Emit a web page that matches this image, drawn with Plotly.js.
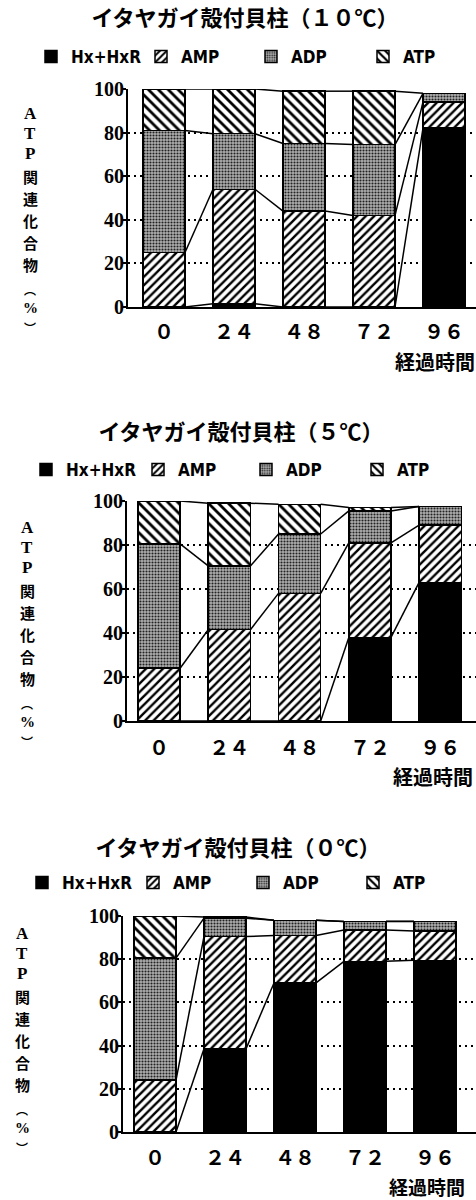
<!DOCTYPE html>
<html>
<head>
<meta charset="utf-8">
<script src="https://cdn.plot.ly/plotly-3.0.1.min.js"></script>
<style>
html,body{margin:0;padding:0;background:#fff;overflow:hidden;}
.c{width:476px;height:400px;}
</style>
</head>
<body>
<div id="c1" class="c"></div>
<div id="c2" class="c"></div>
<div id="c3" class="c"></div>
<script>
// ---- data ----
const hours = ["０", "２４", "４８", "７２", "９６"];
const seriesNames = ["Hx+HxR", "AMP", "ADP", "ATP"];
const titles = ["イタヤガイ殻付貝柱（１０℃）", "イタヤガイ殻付貝柱（５℃）", "イタヤガイ殻付貝柱（０℃）"];
const yTickVals = [0, 20, 40, 60, 80, 100];
const yTitleChars = ["A", "T", "P", "関", "連", "化", "合", "物", "︵", "%", "︶"];
const xTitle = "経過時間";

// 10℃
const hx10  = [0, 1.5, 0, 0, 82];
const amp10 = [25, 52.5, 44, 42, 12];
const adp10 = [56, 25.5, 31, 32.5, 4];
const atp10 = [19, 20.5, 24, 24.5, 0];
// 5℃
const hx5  = [0, 0, 0, 38, 63];
const amp5 = [24, 41.5, 58, 43, 26];
const adp5 = [56.5, 29, 27, 14.5, 8.5];
const atp5 = [19.5, 28.5, 13.5, 1.5, 0];
// 0℃
const hx0  = [0, 38.5, 69, 79, 79.5];
const amp0 = [24, 52, 22, 14.5, 13.5];
const adp0 = [56.5, 8.5, 7, 4, 4.5];
const atp0 = [19.5, 0.5, 0, 0, 0];

// ---- styling / layout ----
const W = 476, H = 400, BARW = 0.6;
const styles = [
  {color: "#000", pattern: {shape: ""}},
  {color: "#fff", pattern: {shape: "/", fgcolor: "#000", bgcolor: "#fff", size: 6, solidity: 0.4}},
  {color: "#aaa", pattern: {shape: ".", fgcolor: "#222", bgcolor: "#b0b0b0", size: 3, solidity: 0.4}},
  {color: "#fff", pattern: {shape: "\\", fgcolor: "#000", bgcolor: "#fff", size: 7, solidity: 0.4}}
];
// vertical offsets (px from first char) and fonts of the y-title characters
const ytOffsets = [0, 20, 40, 63, 85, 107, 129, 151, 176, 195, 214];
const latinFont = {family: "Liberation Serif, serif", size: 17, weight: 700, color: "#000"};
const kanjiFont = {family: "Noto Sans CJK JP", size: 15, weight: 700, color: "#000"};
const parenFont = {family: "Noto Sans CJK JP", size: 12, weight: 700, color: "#000"};
const pctFont = {family: "Liberation Serif, serif", size: 15, weight: 700, color: "#000"};
const ytFonts = [latinFont, latinFont, latinFont, kanjiFont, kanjiFont, kanjiFont, kanjiFont, kanjiFont, parenFont, pctFont, parenFont];

const cfgs = [
  {id: "c1", data: [hx10, amp10, adp10, atp10], top: 89, bottom: 307, left: 128, c0: 164, sp: 70,
   titleX: 245, titleY: 18, legXs: [45, 155, 265, 377], legY: 57, tickStand: 6,
   xlabR: 476, xlabY: 361, xlabSize: 20, ytX: 30, ytY0: 113},
  {id: "c2", data: [hx5, amp5, adp5, atp5], top: 101, bottom: 321, left: 127, c0: 159, sp: 70.3,
   titleX: 241, titleY: 32, legXs: [40, 152, 260, 371], legY: 70, tickStand: 8,
   xlabR: 474, xlabY: 377, xlabSize: 20, ytX: 27, ytY0: 127},
  {id: "c3", data: [hx0, amp0, adp0, atp0], top: 116, bottom: 332, left: 123, c0: 155, sp: 70,
   titleX: 238, titleY: 48, legXs: [36, 147, 257, 367], legY: 83, tickStand: 7,
   xlabR: 466, xlabY: 386.5, xlabSize: 19, ytX: 22, ytY0: 133}
];

const xIdx = hours.map((_, i) => i);
const legendFont = {family: "Liberation Sans Narrow, DejaVu Sans Condensed, sans-serif", size: 17, weight: 700, color: "#000"};

cfgs.forEach((cfg, ci) => {
  const traces = [];
  cfg.data.forEach((vals, si) => {
    traces.push({
      type: "bar", x: xIdx, y: vals, name: seriesNames[si], width: BARW,
      legend: si === 0 ? "legend" : "legend" + (si + 1),
      marker: {color: styles[si].color, pattern: styles[si].pattern, line: {color: "#000", width: 1.5}},
      hoverinfo: "skip"
    });
  });
  // series lines connecting cumulative boundaries between adjacent bars
  const cum = [];
  let run = hours.map(() => 0);
  cfg.data.forEach(vals => {
    run = run.map((r, i) => r + vals[i]);
    cum.push(run.slice());
  });
  cum.forEach(b => {
    const lx = [], ly = [];
    for (let i = 0; i < hours.length - 1; i++) {
      lx.push(i + BARW / 2, i + 1 - BARW / 2, null);
      ly.push(b[i], b[i + 1], null);
    }
    traces.push({type: "scatter", mode: "lines", x: lx, y: ly, showlegend: false,
      line: {color: "#000", width: 1.5}, hoverinfo: "skip", cliponaxis: false});
  });

  const plotW = W - cfg.left;
  const xr0 = -(cfg.c0 - cfg.left) / cfg.sp;
  const xr1 = (W - cfg.c0) / cfg.sp;
  const plotH = cfg.bottom - cfg.top;
  const px2paperX = px => (px - cfg.left) / plotW;
  const px2paperY = py => (cfg.bottom - py) / plotH;

  const annotations = yTitleChars.map((ch, k) => ({
    text: ch, xref: "paper", yref: "paper", x: px2paperX(cfg.ytX), y: px2paperY(cfg.ytY0 + ytOffsets[k]),
    xanchor: "center", yanchor: "middle", showarrow: false, borderpad: 0, font: ytFonts[k]
  }));
  annotations.push({text: xTitle, xref: "paper", yref: "paper", x: px2paperX(cfg.xlabR), y: px2paperY(cfg.xlabY),
    xanchor: "right", yanchor: "middle", showarrow: false, borderpad: 0,
    font: {family: "Noto Sans CJK JP", size: cfg.xlabSize, weight: 700, color: "#000"}});

  const layout = {
    width: W, height: H,
    margin: {l: cfg.left, r: 0, t: cfg.top, b: H - cfg.bottom, pad: 0},
    paper_bgcolor: "#fff", plot_bgcolor: "#fff",
    barmode: "stack", bargap: 0,
    showlegend: true,
    title: {text: titles[ci], xref: "container", yref: "container",
      x: cfg.titleX / W, y: 1 - cfg.titleY / H, xanchor: "center", yanchor: "middle",
      font: {family: "Noto Sans CJK JP", size: 22, weight: 700, color: "#000"}},
    xaxis: {range: [xr0, xr1], tickvals: xIdx, ticktext: hours, showgrid: false, zeroline: false,
      showline: true, linecolor: "#000", linewidth: 2, ticks: "", ticklabelstandoff: cfg.tickStand,
      tickfont: {family: "Noto Sans CJK JP", size: 20, weight: 700, color: "#000"}, fixedrange: true},
    yaxis: {range: [0, 100], tickvals: yTickVals, showgrid: true, gridcolor: "#000", gridwidth: 2,
      griddash: "2px,4px", zeroline: false, showline: true, linecolor: "#000", linewidth: 2,
      ticks: "outside", ticklen: 3, tickwidth: 2, tickcolor: "#000", ticklabelstandoff: -5,
      tickfont: {family: "Liberation Serif, serif", size: 20, weight: 700, color: "#000"}, fixedrange: true},
    annotations: annotations
  };
  cfg.legXs.forEach((lx, k) => {
    const key = k === 0 ? "legend" : "legend" + (k + 1);
    layout[key] = {orientation: "h", xref: "container", yref: "container",
      x: (lx - 14) / W, y: 1 - cfg.legY / H, xanchor: "left", yanchor: "middle",
      itemclick: false, font: legendFont, bgcolor: "rgba(0,0,0,0)"};
  });
  Plotly.newPlot(cfg.id, traces, layout, {staticPlot: true, displayModeBar: false});
});
</script>
</body>
</html>
